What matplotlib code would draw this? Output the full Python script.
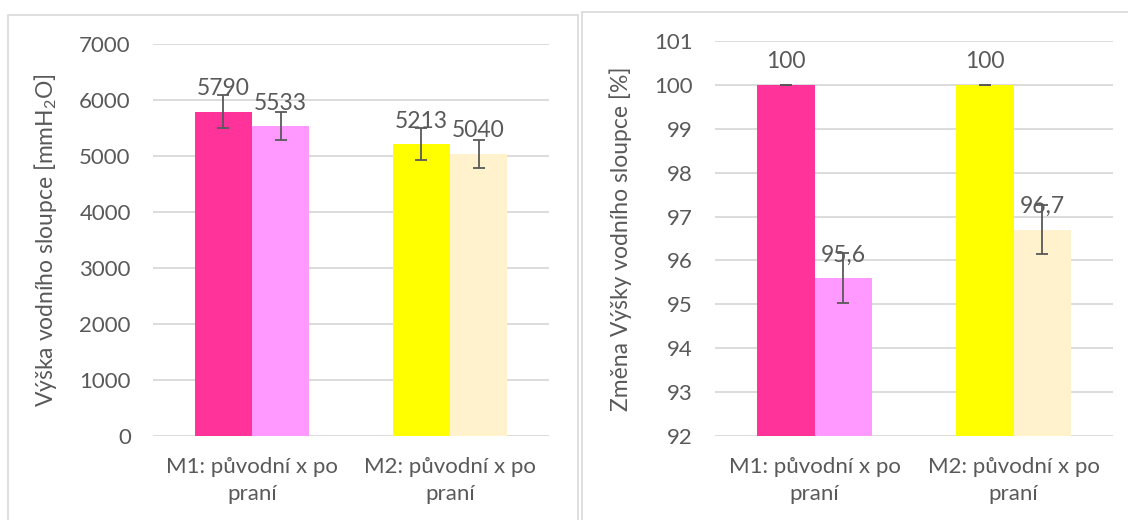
import matplotlib
matplotlib.use("Agg")
import matplotlib.pyplot as plt
from matplotlib.patches import Rectangle
import numpy as np

plt.rcParams['font.family'] = ['Lato', 'DejaVu Sans']
plt.rcParams['mathtext.default'] = 'regular'

# data
categories = ['M1: původní x po\npraní', 'M2: původní x po\npraní']
colors_first = ['#FF3399', '#FFFF00']
colors_second = ['#FF99FF', '#FFF2CC']

height_orig = [5790, 5213]
height_wash = [5533, 5040]
height_orig_err = [295, 285]
height_wash_err = [250, 250]

change_orig = [100, 100]
change_wash = [95.6, 96.7]
change_orig_err = [0, 0]
change_wash_err = [0.56, 0.56]

txt = '#595959'
grid = '#D9D9D9'

fig = plt.figure(figsize=(11.28, 5.20), dpi=100)

# panel frames
fig.patches.append(Rectangle((8/1128, -0.02), 570/1128, 1.02 - 15/520,
                             transform=fig.transFigure, fill=False,
                             edgecolor=grid, lw=1.2))
fig.patches.append(Rectangle((582/1128, -0.02), 0.6, 1.02 - 12/520,
                             transform=fig.transFigure, fill=False,
                             edgecolor=grid, lw=1.2))


def draw(ax, v1, v2, e1, e2, ylim, yticks, ylabel, fmt, labx):
    x = np.arange(len(categories))
    w = 0.288
    ax.bar(x - w/2, v1, w, color=colors_first, zorder=2)
    ax.bar(x + w/2, v2, w, color=colors_second, zorder=2)
    ax.errorbar(x - w/2, v1, yerr=e1, fmt='none', ecolor=txt, elinewidth=1.3,
                capsize=4.5, capthick=1.3, zorder=3)
    ax.errorbar(x + w/2, v2, yerr=e2, fmt='none', ecolor=txt, elinewidth=1.3,
                capsize=4.5, capthick=1.3, zorder=3)
    for xs, vals in ((x - w/2, v1), (x + w/2, v2)):
        for xi, vi in zip(xs, vals):
            ax.annotate(fmt(vi), xy=(xi, vi), xytext=(0, 9), textcoords='offset points',
                        ha='center', va='bottom', fontsize=16.5, color=txt, zorder=4)
    ax.set_xlim(-0.5, 1.5)
    ax.set_ylim(*ylim)
    ax.set_yticks(yticks)
    ax.set_xticks(x)
    ax.set_xticklabels(categories, linespacing=1.45)
    ax.tick_params(length=0, labelsize=16, colors=txt)
    ax.tick_params(axis='y', pad=16)
    ax.tick_params(axis='x', pad=15)
    for s in ax.spines.values():
        s.set_visible(False)
    ax.yaxis.grid(True, color=grid, lw=1.3, zorder=0)
    ax.set_axisbelow(True)
    ax.set_ylabel(ylabel, fontsize=16.5, color=txt)
    ax.yaxis.set_label_coords(labx, 0.5)


ax1 = fig.add_axes([153/1128, 1 - 436/520, 396/1128, 392/520])
draw(ax1, height_orig, height_wash, height_orig_err, height_wash_err,
     (0, 7000), np.arange(0, 7001, 1000), r'Výška vodního sloupce [mmH$_2$O]',
     lambda v: f'{v:.0f}', -0.237)

ax2 = fig.add_axes([715/1128, 1 - 436/520, 398/1128, 395/520])
draw(ax2, change_orig, change_wash, change_orig_err, change_wash_err,
     (92, 101), np.arange(92, 102, 1), 'Změna Výšky vodního sloupce [%]',
     lambda v: f'{v:g}'.replace('.', ','), -0.209)

fig.savefig('out.png', dpi=100)
